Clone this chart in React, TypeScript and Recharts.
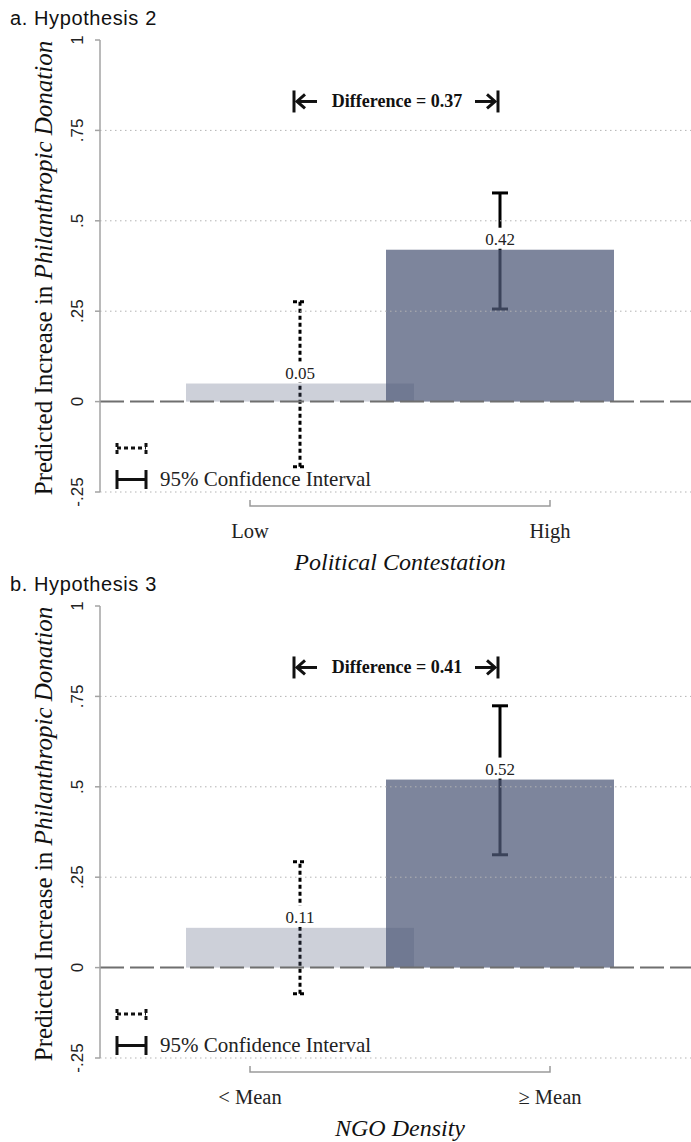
import React from "react";
import {
  ComposedChart,
  Bar,
  Cell,
  Scatter,
  ErrorBar,
  XAxis,
  YAxis,
  ReferenceLine,
  LabelList,
} from "recharts";

// panel a: Hypothesis 2 / panel b: Hypothesis 3
const panelTitles = ["a. Hypothesis 2", "b. Hypothesis 3"];
const xTitles = ["Political Contestation", "NGO Density"];
const categoriesA = ["Low", "High"];
const categoriesB = ["< Mean", "≥ Mean"];
const valuesA = [0.05, 0.42];
const lowerA = [-0.18, 0.256];
const upperA = [0.276, 0.577];
const valuesB = [0.11, 0.52];
const lowerB = [-0.072, 0.312];
const upperB = [0.293, 0.724];
const differences = [0.37, 0.41];

const barPositions = [1, 2];
const tickPositions = [0.75, 2.25];
const yTicks = [-0.25, 0, 0.25, 0.5, 0.75, 1];
const gridValues = [-0.25, 0.25, 0.5, 0.75];
const annotationY = 0.83;

const SERIF = '"Liberation Serif", "Times New Roman", serif';
const SANS = '"Liberation Sans", Arial, sans-serif';
const BAR_COLOR = "#505a7a";
const barOpacity = [0.285, 0.74];
const AXIS_GRAY = "#a3a3a3";

const W = 691;
const H = 576;

const fmtTick = (v: number) => (v === 0 ? "0" : v === 1 ? "1" : String(v).replace("0.", "."));

const YTick = (props: any) => {
  const { x, y, payload } = props;
  return (
    <text
      x={x}
      y={y}
      transform={`rotate(-90 ${x} ${y})`}
      textAnchor="middle"
      fontFamily={SANS}
      fontSize={17}
      fill="#222"
    >
      {fmtTick(payload.value)}
    </text>
  );
};

const XTick = (props: any) => {
  const { x, y, payload, labels } = props;
  const i = tickPositions.indexOf(payload.value);
  return (
    <text x={x} y={y + 46} textAnchor="middle" fontFamily={SERIF} fontSize={20.5} fill="#222">
      {labels[i]}
    </text>
  );
};

const WideBar = (props: any) => {
  const { x, y, width, height, index } = props;
  const cx = x + width / 2;
  return (
    <rect
      x={cx - 114}
      y={y}
      width={228}
      height={height}
      fill={BAR_COLOR}
      fillOpacity={barOpacity[index] ?? 0.7}
    />
  );
};

const ValueLabel = (props: any) => {
  const { x, y, width, value } = props;
  const cx = x + width / 2;
  return (
    <g>
      <rect x={cx - 18} y={y - 22} width={36} height={21} fill="#fff" />
      <text x={cx} y={y - 5} textAnchor="middle" fontFamily={SERIF} fontSize={17} fill="#222">
        {Number(value).toFixed(2)}
      </text>
    </g>
  );
};

function Panel({ idx, cats, values, lower, upper }: any) {
  const rows = values.map((v: number, i: number) => ({
    pos: barPositions[i],
    value: v,
    err: [v - lower[i], upper[i] - v],
  }));

  const diffShape = (p: any) => {
    const xl = p.x1 - 6;
    const xr = p.x2 - 2;
    const y = p.y1;
    return (
      <g stroke="#111" strokeWidth={3} fill="none">
        <line x1={xl} y1={y - 11} x2={xl} y2={y + 11} />
        <line x1={xl + 3} y1={y} x2={xl + 23} y2={y} />
        <polyline points={`${xl + 11},${y - 7} ${xl + 3},${y} ${xl + 11},${y + 7}`} />
        <line x1={xr} y1={y - 11} x2={xr} y2={y + 11} />
        <line x1={xr - 23} y1={y} x2={xr - 3} y2={y} />
        <polyline points={`${xr - 11},${y - 7} ${xr - 3},${y} ${xr - 11},${y + 7}`} />
        <text
          x={(xl + xr) / 2 + 1}
          y={y + 6}
          textAnchor="middle"
          fontFamily={SERIF}
          fontWeight="bold"
          fontSize={18}
          fill="#111"
          stroke="none"
        >
          {`Difference = ${differences[idx].toFixed(2)}`}
        </text>
      </g>
    );
  };

  const bracketShape = (p: any) => {
    const y = p.y1;
    return (
      <g>
        <path
          d={`M${p.x1},${y + 8} V${y + 14} H${p.x2} V${y + 8}`}
          stroke="#9a9a9a"
          strokeWidth={1.5}
          fill="none"
        />
        <text
          x={(p.x1 + p.x2) / 2}
          y={y + 78}
          textAnchor="middle"
          fontFamily={SERIF}
          fontStyle="italic"
          fontSize={24}
          fill="#111"
        >
          {xTitles[idx]}
        </text>
      </g>
    );
  };

  const yTitle = (p: any) => {
    const vb = p.viewBox || { x: 0, y: 40, width: 100, height: 452 };
    const cx = vb.x + 52;
    const cy = vb.y + vb.height / 2 + 2;
    return (
      <text
        x={cx}
        y={cy}
        transform={`rotate(-90 ${cx} ${cy})`}
        textAnchor="middle"
        fontFamily={SERIF}
        fontSize={25}
        fill="#111"
      >
        Predicted Increase in <tspan fontStyle="italic">Philanthropic Donation</tspan>
      </text>
    );
  };

  return (
    <div style={{ position: "absolute", left: 0, top: idx * 566, width: W, height: H }}>
      <ComposedChart
        width={W}
        height={H}
        data={rows}
        margin={{ top: 40, right: 0, bottom: 0, left: 0 }}
        style={{ fontFamily: SERIF }}
      >
        <XAxis
          type="number"
          dataKey="pos"
          domain={[0, 2.955]}
          allowDataOverflow
          ticks={tickPositions}
          interval={0}
          axisLine={false}
          tickLine={false}
          tickSize={0}
          tickMargin={0}
          height={84}
          tick={<XTick labels={cats} />}
        />
        <YAxis
          type="number"
          domain={[-0.25, 1]}
          allowDataOverflow
          ticks={yTicks}
          interval={0}
          width={100}
          tickSize={5}
          tickMargin={12}
          axisLine={{ stroke: AXIS_GRAY, strokeWidth: 1.5 }}
          tickLine={{ stroke: AXIS_GRAY, strokeWidth: 1.5 }}
          tick={<YTick />}
          label={{ content: yTitle }}
        />
        {gridValues.map((v) => (
          <ReferenceLine key={v} y={v} stroke="#b3b3b3" strokeDasharray="1.5 3.5" strokeWidth={1} />
        ))}
        <Scatter data={[rows[0]]} dataKey="value" shape={() => <g />} isAnimationActive={false} zIndex={250}>
          <ErrorBar
            dataKey="err"
            direction="y"
            width={7}
            stroke="#000"
            strokeWidth={3}
            strokeDasharray="4 3"
            isAnimationActive={false}
            zIndex={250}
          />
        </Scatter>
        <Scatter data={[rows[1]]} dataKey="value" shape={() => <g />} isAnimationActive={false} zIndex={250}>
          <ErrorBar
            dataKey="err"
            direction="y"
            width={8}
            stroke="#000"
            strokeWidth={3}
            isAnimationActive={false}
            zIndex={250}
          />
        </Scatter>
        <Bar dataKey="value" barSize={200} shape={<WideBar />} isAnimationActive={false}>
          {rows.map((_: any, i: number) => (
            <Cell key={i} fill={BAR_COLOR} fillOpacity={barOpacity[i]} />
          ))}
          <LabelList dataKey="value" content={<ValueLabel />} />
        </Bar>
        <ReferenceLine y={0} stroke="#6f6f6f" strokeWidth={2} strokeDasharray="24 6" />
        <ReferenceLine
          segment={[
            { x: barPositions[0], y: annotationY },
            { x: barPositions[1], y: annotationY },
          ]}
          ifOverflow="visible"
          shape={diffShape}
        />
        <ReferenceLine
          segment={[
            { x: tickPositions[0], y: -0.25 },
            { x: tickPositions[1], y: -0.25 },
          ]}
          ifOverflow="visible"
          shape={bracketShape}
        />
      </ComposedChart>
      <svg
        width={W}
        height={H}
        style={{ position: "absolute", left: 0, top: 0, pointerEvents: "none" }}
      >
        <text x={10} y={25} fontFamily={SANS} fontSize={20} letterSpacing={0.6} fill="#111">
          {panelTitles[idx]}
        </text>
        <g stroke="#111" strokeWidth={3} fill="none">
          <line x1={117} y1={443} x2={117} y2={455} strokeDasharray="4 3" />
          <line x1={146} y1={443} x2={146} y2={455} strokeDasharray="4 3" />
          <line x1={117} y1={448} x2={146} y2={448} strokeDasharray="4 3" />
          <line x1={117} y1={470} x2={117} y2={489} />
          <line x1={146} y1={470} x2={146} y2={489} />
          <line x1={117} y1={479.5} x2={146} y2={479.5} />
        </g>
        <text x={160} y={486} fontFamily={SERIF} fontSize={21} fill="#222">
          95% Confidence Interval
        </text>
      </svg>
    </div>
  );
}

export default function App() {
  return (
    <div
      style={{
        position: "absolute",
        left: 0,
        top: 0,
        width: W,
        height: 1142,
        overflow: "hidden",
        background: "#fff",
      }}
    >
      <Panel idx={0} cats={categoriesA} values={valuesA} lower={lowerA} upper={upperA} />
      <Panel idx={1} cats={categoriesB} values={valuesB} lower={lowerB} upper={upperB} />
    </div>
  );
}
